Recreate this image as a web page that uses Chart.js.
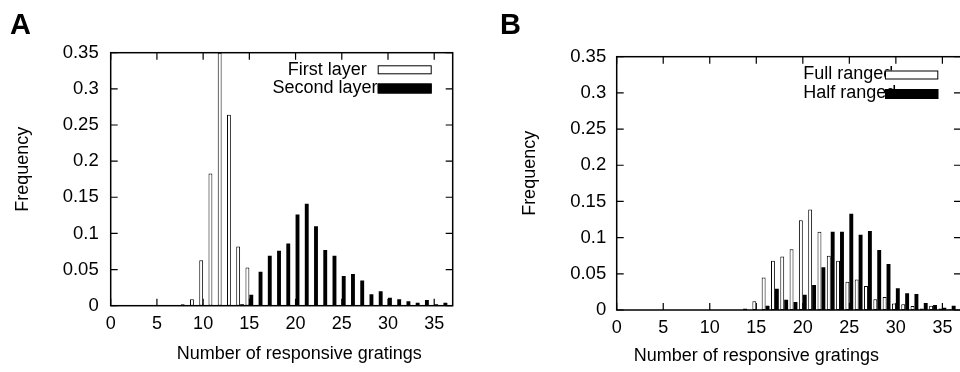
<!DOCTYPE html>
<html><head><meta charset="utf-8">
<script src="https://cdn.jsdelivr.net/npm/chart.js@4/dist/chart.umd.min.js"></script>
<style>
html,body{margin:0;padding:0;background:#fff;}
#wrap{position:relative;width:960px;height:372px;overflow:hidden;background:#fff;}
canvas{position:absolute;top:0;}
#cA{left:0;} #cB{left:480px;}
.plabel{position:absolute;font:bold 29px "Liberation Sans",Arial,sans-serif;line-height:29px;color:#000;}
</style></head><body>
<div id="wrap">
<canvas id="cA" width="480" height="372"></canvas>
<canvas id="cB" width="481" height="372"></canvas>
<div class="plabel" style="left:10px;top:10px">A</div>
<div class="plabel" style="left:500px;top:10px">B</div>
</div>
<script>
// ---- data ----
const bins = [0,1,2,3,4,5,6,7,8,9,10,11,12,13,14,15,16,17,18,19,20,21,22,23,24,25,26,27,28,29,30,31,32,33,34,35,36];
// Panel A
const firstLayer  = [0,0,0,0,0,0,0,0,0.002,0.009,0.063,0.183,0.35,0.264,0.082,0.053,0,0,0,0,0,0,0,0,0,0,0,0,0,0,0,0,0,0,0,0,0];
const secondLayer = [0,0,0,0,0,0,0,0,0,0,0,0,0,0,0.002,0.015,0.047,0.069,0.076,0.086,0.126,0.141,0.110,0.077,0.069,0.041,0.044,0.035,0.016,0.020,0.011,0.009,0.006,0.004,0.008,0.002,0.004];
// Panel B
const fullRange   = [0,0,0,0,0,0,0,0,0,0,0,0,0,0,0.002,0.012,0.045,0.068,0.074,0.084,0.124,0.139,0.108,0.075,0.068,0.039,0.042,0.033,0.015,0.018,0.009,0.008,0.0055,0.002,0.006,0.002,0.001];
const halfRange   = [0,0,0,0,0,0,0,0,0,0,0,0,0,0,0,0,0.006,0.0295,0.014,0.011,0.021,0.0345,0.059,0.108,0.108,0.133,0.104,0.109,0.083,0.0635,0.030,0.023,0.022,0.0097,0.007,0.003,0.006];
const seriesNamesA = ['First layer','Second layer'];
const seriesNamesB = ['Full ranged','Half ranged'];
const xTickValues = [0,5,10,15,20,25,30,35];
const xTickLabels = ['0','5','10','15','20','25','30','35'];
const yTickValues = [0,0.05,0.1,0.15,0.2,0.25,0.3,0.35];
const yTickLabels = ['0','0.05','0.1','0.15','0.2','0.25','0.3','0.35'];
const xTitle = 'Number of responsive gratings';
const yTitle = 'Frequency';

// ---- drawing ----
const FONT = '"Liberation Sans", Arial, Helvetica, sans-serif';
const FS = 18;

const frameTicks = {
  id: 'frameTicks',
  beforeDatasetsDraw(chart) {
    const {ctx, chartArea: a, scales: {x, y}} = chart;
    const TL = 7;
    ctx.save();
    ctx.strokeStyle = '#000'; ctx.lineWidth = 1.2;
    ctx.beginPath();
    x.ticks.forEach(t => {
      const px = x.getPixelForValue(t.value);
      ctx.moveTo(px, a.bottom); ctx.lineTo(px, a.bottom - TL);
      ctx.moveTo(px, a.top); ctx.lineTo(px, a.top + TL);
    });
    y.ticks.forEach(t => {
      const py = y.getPixelForValue(t.value);
      ctx.moveTo(a.left, py); ctx.lineTo(a.left + TL, py);
      ctx.moveTo(a.right, py); ctx.lineTo(a.right - TL, py);
    });
    ctx.stroke();
    ctx.restore();
  },
  afterDatasetsDraw(chart, args, opts) {
    const {ctx, chartArea: a} = chart;
    ctx.save();
    ctx.strokeStyle = '#000'; ctx.lineWidth = 1.5;
    ctx.strokeRect(a.left, a.top, a.right - a.left, a.bottom - a.top);
    // legend
    ctx.font = FS + 'px ' + FONT;
    ctx.textBaseline = 'middle';
    (opts.items || []).forEach((it, i) => {
      const ds = chart.data.datasets[i];
      ctx.fillStyle = '#000';
      ctx.textAlign = it.align;
      ctx.fillText(ds.label, it.tx, it.ty);
      ctx.fillStyle = ds.backgroundColor;
      ctx.fillRect(it.bx, it.by, it.bw, it.bh);
      ctx.lineWidth = 1;
      ctx.strokeStyle = '#000';
      ctx.strokeRect(it.bx + 0.5, it.by + 0.5, it.bw - 1, it.bh - 1);
    });
    ctx.restore();
  }
};

function makeChart(id, s1, s2, names, g) {
  const font = {family: FONT, size: FS};
  const yfont = {family: FONT, size: 18.5};
  return new Chart(document.getElementById(id), {
    type: 'bar',
    data: {
      datasets: [
        {label: names[0], data: bins.map((b, i) => ({x: b, y: s1[i] || null})),
         backgroundColor: '#fff', borderColor: '#000', borderWidth: 1, borderSkipped: false,
         categoryPercentage: 0.84, barPercentage: 1},
        {label: names[1], data: bins.map((b, i) => ({x: b, y: s2[i] || null})),
         backgroundColor: '#000', borderColor: '#000', borderWidth: 0,
         categoryPercentage: 0.84, barPercentage: 1}
      ]
    },
    options: {
      responsive: false, animation: false, devicePixelRatio: 1,
      layout: {padding: {top: g.top, right: g.right, left: 0, bottom: 0}},
      plugins: {legend: {display: false}, tooltip: {enabled: false}, frameTicks: {items: g.legend}},
      scales: {
        x: {
          type: 'linear', min: 0, max: 37, offset: false,
          grid: {display: false, drawTicks: false}, border: {display: false},
          afterBuildTicks: s => { s.ticks = xTickValues.map(v => ({value: v})); },
          afterFit: s => { s.height = g.xh; s.paddingLeft = 0; s.paddingRight = 0; },
          ticks: {autoSkip: false, maxRotation: 0, padding: g.xtp, font, color: '#000',
                  callback: (v, i) => xTickLabels[i]},
          title: {display: true, text: g.xTitle, font, color: '#000', padding: {top: 0, bottom: g.xtb}}
        },
        y: {
          min: 0, max: 0.35,
          grid: {display: false, drawTicks: false}, border: {display: false},
          afterBuildTicks: s => { s.ticks = yTickValues.map(v => ({value: v})); },
          afterFit: s => { s.width = g.yw; s.paddingTop = 0; s.paddingBottom = 0; },
          ticks: {autoSkip: false, padding: g.ytp, font: yfont, color: '#000',
                  callback: (v, i) => yTickLabels[i]},
          title: {display: true, text: g.yTitle, font, color: '#000', padding: {top: g.ytt, bottom: 0}}
        }
      }
    },
    plugins: [frameTicks]
  });
}

makeChart('cA', firstLayer, secondLayer, seriesNamesA, {
  top: 52.7, right: 27.3, xh: 66.3, yw: 110.7, xtp: 7.5, xtb: 7.2, ytp: 12, ytt: 12.2,
  xTitle: '       ' + xTitle, yTitle: '    ' + yTitle,
  legend: [
    {align: 'right', tx: 366.7, ty: 69.8, bx: 377.7, by: 65.3, bw: 54, bh: 9},
    {align: 'right', tx: 377.5, ty: 88.3, bx: 377.7, by: 83.5, bw: 54, bh: 10}
  ]
});

makeChart('cB', fullRange, halfRange, seriesNamesB, {
  top: 56.7, right: 0, xh: 62, yw: 136.7, xtp: 7.5, xtb: 5.2, ytp: 10.5, ytt: 39.2,
  xTitle: xTitle + '             ', yTitle: '    ' + yTitle,
  legend: [
    {align: 'left', tx: 323.3, ty: 74.5, bx: 405, by: 70.5, bw: 53.3, bh: 9},
    {align: 'left', tx: 323.3, ty: 93.5, bx: 405, by: 89, bw: 53.3, bh: 10}
  ]
});
</script>
</body></html>
